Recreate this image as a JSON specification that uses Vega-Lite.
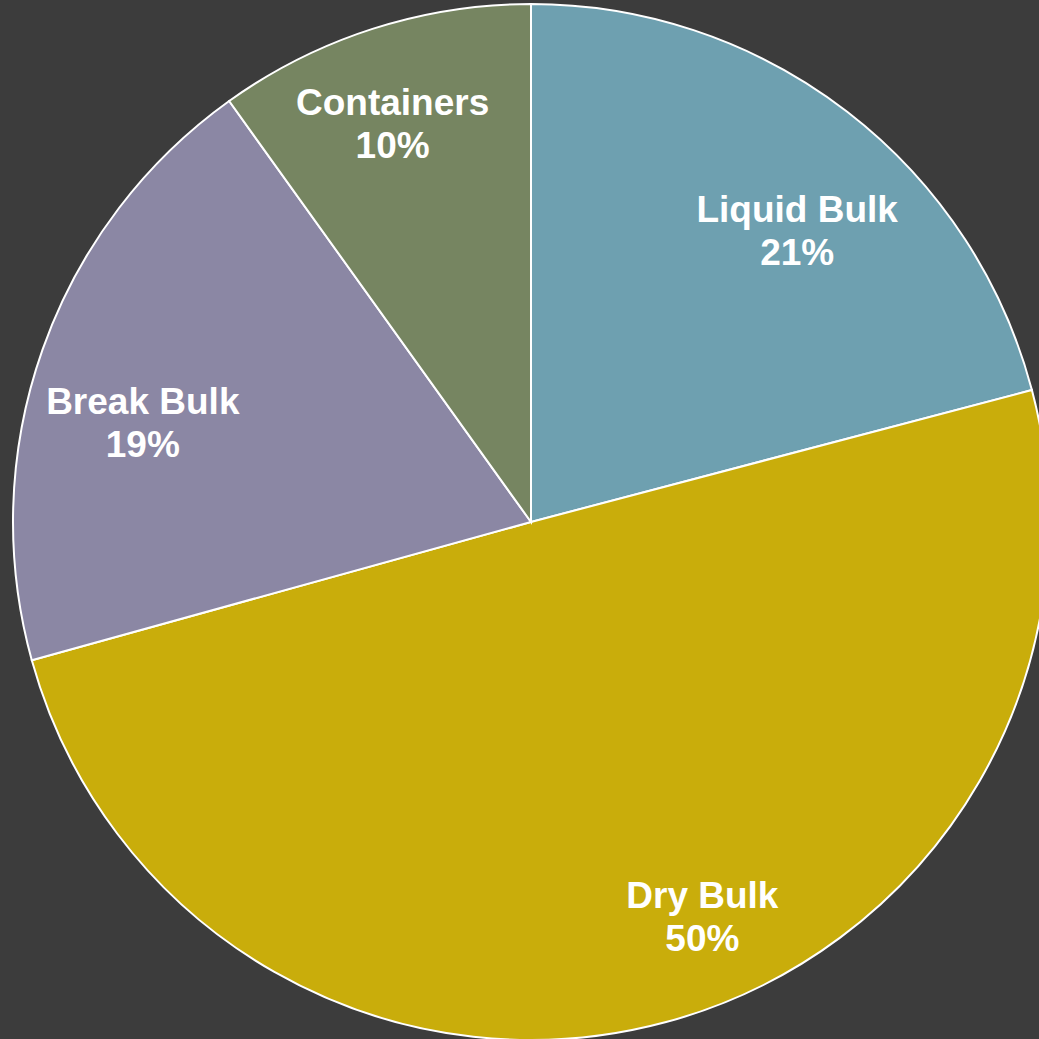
{
  "$schema": "https://vega.github.io/schema/vega-lite/v6.json",
  "width": 1062,
  "height": 1044,
  "autosize": {"type": "none"},
  "padding": 0,
  "background": "#3c3c3c",
  "config": {"view": {"stroke": null}},
  "data": {"values": [
    {"cargo": "Liquid Bulk", "share": 20.9},
    {"cargo": "Dry Bulk", "share": 49.8},
    {"cargo": "Break Bulk", "share": 19.4},
    {"cargo": "Containers", "share": 9.9}
  ]},
  "transform": [
    {"window": [{"op": "row_number", "as": "idx"}]},
    {"calculate": "[datum.cargo, format(datum.share, '.0f') + '%']", "as": "label"}
  ],
  "encoding": {
    "theta": {"field": "share", "type": "quantitative", "stack": true},
    "order": {"field": "idx", "type": "quantitative"}
  },
  "layer": [
    {
      "mark": {"type": "arc", "outerRadius": 518, "stroke": "#ffffff", "strokeWidth": 2},
      "encoding": {
        "color": {
          "field": "cargo", "type": "nominal", "legend": null,
          "scale": {"domain": ["Liquid Bulk", "Dry Bulk", "Break Bulk", "Containers"],
                    "range": ["#6ea0b0", "#c9ad0b", "#8b87a4", "#768561"]}
        }
      }
    },
    {
      "mark": {"type": "text", "radius": 400, "dx": 22, "dy": 6, "fontSize": 37, "lineHeight": 43, "font": "Liberation Sans", "fontWeight": "bold", "fill": "#ffffff", "align": "center", "baseline": "middle"},
      "encoding": {"text": {"condition": {"test": "datum.cargo === 'Liquid Bulk'", "field": "label"}, "value": ""}}
    },
    {
      "mark": {"type": "text", "radius": 400, "dx": 67, "dy": -11, "fontSize": 37, "lineHeight": 43, "font": "Liberation Sans", "fontWeight": "bold", "fill": "#ffffff", "align": "center", "baseline": "middle"},
      "encoding": {"text": {"condition": {"test": "datum.cargo === 'Dry Bulk'", "field": "label"}, "value": ""}}
    },
    {
      "mark": {"type": "text", "radius": 400, "dx": -11, "dy": 14, "fontSize": 37, "lineHeight": 43, "font": "Liberation Sans", "fontWeight": "bold", "fill": "#ffffff", "align": "center", "baseline": "middle"},
      "encoding": {"text": {"condition": {"test": "datum.cargo === 'Break Bulk'", "field": "label"}, "value": ""}}
    },
    {
      "mark": {"type": "text", "radius": 400, "dx": -16, "dy": -37, "fontSize": 37, "lineHeight": 43, "font": "Liberation Sans", "fontWeight": "bold", "fill": "#ffffff", "align": "center", "baseline": "middle"},
      "encoding": {"text": {"condition": {"test": "datum.cargo === 'Containers'", "field": "label"}, "value": ""}}
    }
  ]
}
